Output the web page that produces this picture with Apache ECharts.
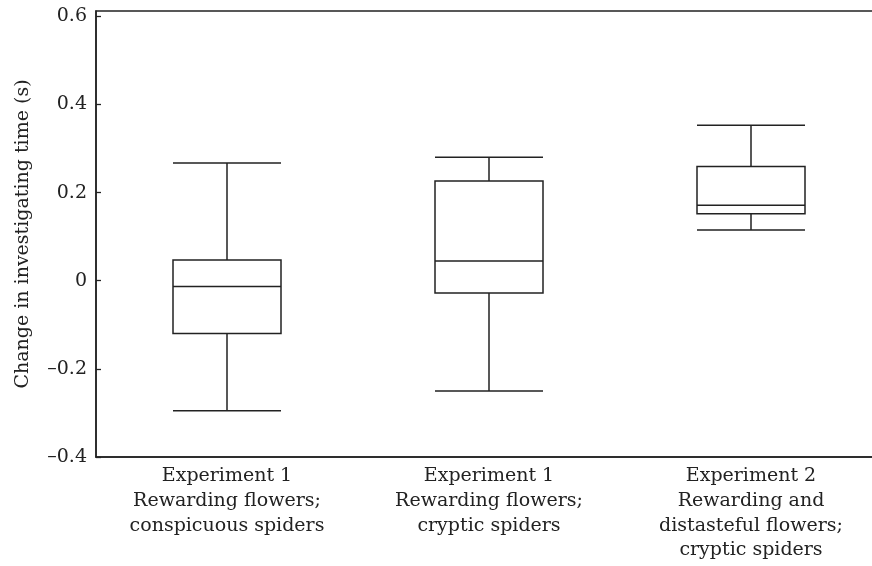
<!DOCTYPE html>
<html>
<head>
<meta charset="utf-8">
<script src="https://cdn.jsdelivr.net/npm/echarts@6/dist/echarts.min.js"></script>
<style>
  html, body { margin: 0; padding: 0; background: #fff; }
  #chart { width: 872px; height: 566px; }
</style>
</head>
<body>
<div id="chart"></div>
<script>
// groups on the x axis
const categories = [
    'Experiment 1\nRewarding flowers;\nconspicuous spiders',
    'Experiment 1\nRewarding flowers;\ncryptic spiders',
    'Experiment 2\nRewarding and\ndistasteful flowers;\ncryptic spiders'
];
// box statistics
const lowWhisker  = [-0.295, -0.250, 0.115];
const q1          = [-0.120, -0.028, 0.152];
const median      = [-0.013,  0.045, 0.171];
const q3          = [ 0.047,  0.226, 0.259];
const highWhisker = [ 0.267,  0.280, 0.353];

const yTicks = [-0.4, -0.2, 0, 0.2, 0.4, 0.6];

const ink = '#222';
const font = 'DejaVu Serif';

const boxData = categories.map((c, i) => [lowWhisker[i], q1[i], median[i], q3[i], highWhisker[i]]);

function fmtY(v) {
    if (Math.abs(v) < 1e-9) return '0';
    let s = Math.abs(v).toFixed(1);
    return v < 0 ? '\u2013' + s : s;
}

const chart = echarts.init(document.getElementById('chart'));
chart.setOption({
    animation: false,
    grid: {
        left: 96, top: 11, width: 786, height: 446,
        outerBoundsMode: 'none',
        show: true, borderColor: ink, borderWidth: 1.5,
        backgroundColor: 'transparent'
    },
    xAxis: {
        type: 'category',
        data: categories,
        axisLine: { onZero: false, lineStyle: { color: ink, width: 1.5 } },
        axisTick: { inside: true, alignWithLabel: true, length: 5, lineStyle: { color: ink, width: 1.3 } },
        axisLabel: {
            color: ink, fontFamily: font, fontSize: 19, lineHeight: 24.7,
            margin: 7, interval: 0
        },
        splitLine: { show: false }
    },
    yAxis: {
        type: 'value',
        min: -0.4, max: 0.612, interval: 0.2,
        name: 'Change in investigating time (s)',
        nameLocation: 'middle',
        nameGap: 63,
        nameTextStyle: { color: ink, fontFamily: font, fontSize: 19 },
        axisLine: { show: true, lineStyle: { color: ink, width: 1.5 } },
        axisTick: { show: true, inside: true, length: 5, lineStyle: { color: ink, width: 1.3 } },
        axisLabel: {
            color: ink, fontFamily: font, fontSize: 19, margin: 9,
            showMaxLabel: false,
            formatter: function (v) {
                return yTicks.some(t => Math.abs(t - v) < 1e-6) ? fmtY(v) : '';
            }
        },
        splitLine: { show: false }
    },
    series: [{
        type: 'boxplot',
        data: boxData,
        boxWidth: [108, 108],
        itemStyle: { color: '#fff', borderColor: ink, borderWidth: 1.5 },
        emphasis: { disabled: true }
    }]
});
</script>
</body>
</html>
